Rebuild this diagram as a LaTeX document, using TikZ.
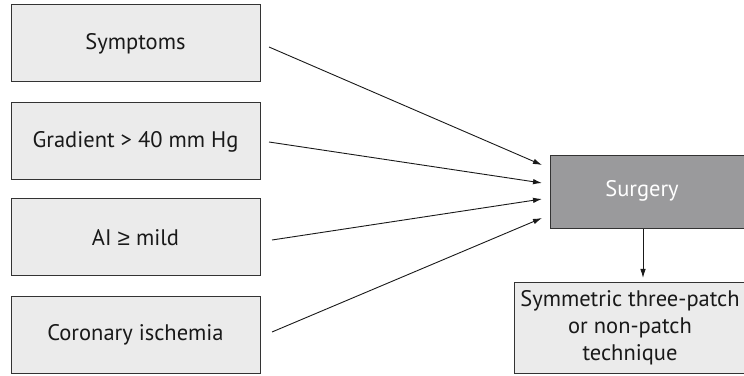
\documentclass[tikz,border=0pt]{standalone}
\usepackage{fontspec}
\setmainfont{PT Sans}
\newfontfamily\symfont{Liberation Sans}
\usetikzlibrary{arrows.meta}
\definecolor{boxfill}{HTML}{EBEBEB}
\definecolor{darkfill}{HTML}{9A9A9C}
\definecolor{edge}{HTML}{333333}
\begin{document}
\begin{tikzpicture}[x=1pt,y=1pt,
  inbox/.style={draw=edge,line width=1pt,fill=boxfill,minimum width=249pt,minimum height=77pt,inner sep=0pt,font=\fontsize{22.5}{27}\selectfont,text=black!90},
  conn/.style={draw=black!90,line width=0.9pt,-{Latex[length=9pt,width=5.5pt]}}]
\useasboundingbox (0,0) rectangle (744,375);
\begin{scope}
\clip (0,0) rectangle (744,375);
\node[inbox] (s1) at (135.5,331.5) {Symptoms};
\node[inbox] (s2) at (135.5,233.5) {Gradient > 40 mm Hg};
\node[inbox] (s3) at (135.5,137.5) {AI {\symfont ≥} mild};
\node[inbox] (s4) at (135.5,40) {Coronary ischemia};
\node[draw=edge,line width=1pt,fill=darkfill,minimum width=200pt,minimum height=73pt,anchor=west,inner sep=0pt] (surg) at (550,182.5) {};
\node[text=white,font=\fontsize{22.5}{27}\selectfont] (surgt) at (642,184) {Surgery};
\node[draw=edge,line width=1pt,fill=boxfill,minimum width=240pt,minimum height=90pt,anchor=west,inner sep=0pt] (tech) at (514,47) {};
\node[align=center,font=\fontsize{22.5}{27}\selectfont,text=black!90] (techt) at (630,47) {Symmetric three-patch\\or non-patch\\technique};
\end{scope}
\coordinate (e1) at (542,210);
\coordinate (e2) at (542,192);
\coordinate (e3) at (542,176);
\coordinate (e4) at (542,157);
\coordinate (b1) at (269,328);
\coordinate (b2) at (269,233);
\coordinate (b3) at (272,135);
\coordinate (b4) at (272,43);
\coordinate (vt) at (643,146);
\coordinate (vb) at (643,97);
\draw[conn] (b1) -- (e1);
\draw[conn] (b2) -- (e2);
\draw[conn] (b3) -- (e3);
\draw[conn] (b4) -- (e4);
\draw[conn] (vt) -- (vb);
\end{tikzpicture}
\end{document}
